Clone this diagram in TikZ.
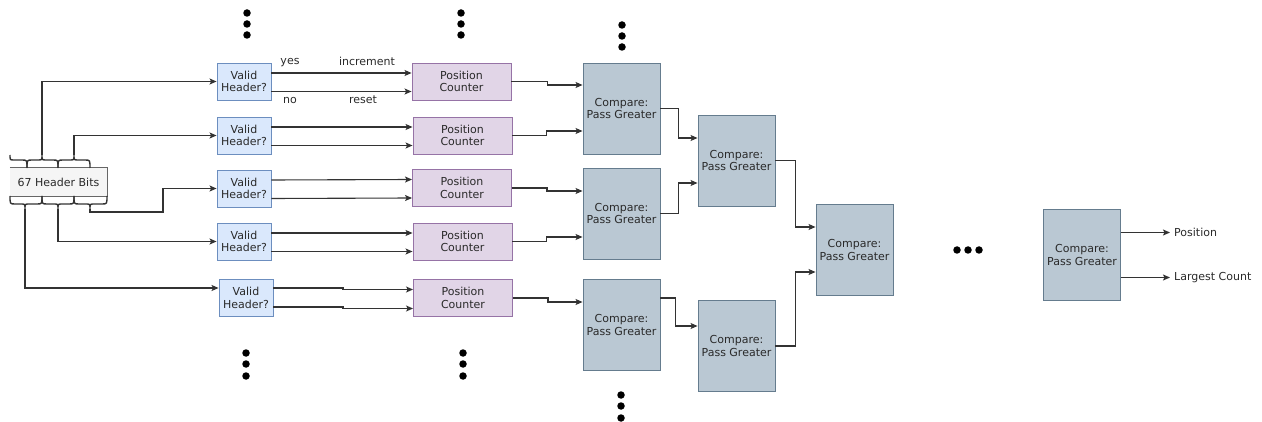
\documentclass[tikz,border=0pt]{standalone}
\usepackage{fontspec}
\setmainfont{DejaVu Sans}
\usetikzlibrary{arrows.meta}
\definecolor{vfill}{HTML}{DAE8FC}
\definecolor{vline}{HTML}{6C8EBF}
\definecolor{pfill}{HTML}{E1D5E7}
\definecolor{pline}{HTML}{9673A6}
\definecolor{cfill}{HTML}{BAC8D3}
\definecolor{cline}{HTML}{23445D}
\definecolor{hfill}{HTML}{F5F5F5}
\definecolor{hline}{HTML}{666666}
\definecolor{txt}{HTML}{2A2A2A}
\definecolor{wire}{HTML}{333333}
\newcommand{\mybracetop}[3]{%
  \draw[bracestyle] (#1,168) .. controls (#1,160) .. (#1+5,160) -- (#2-4,160) .. controls (#2,160) .. (#2,155) .. controls (#2,160) .. (#2+4,160) -- (#3-5,160) .. controls (#3,160) .. (#3,168);}
\newcommand{\mybracebot}[3]{%
  \draw[bracestyle] (#1,196) .. controls (#1,204) .. (#1+5,204) -- (#2-4,204) .. controls (#2,204) .. (#2,209) .. controls (#2,204) .. (#2+4,204) -- (#3-5,204) .. controls (#3,204) .. (#3,196);}
\tikzset{
  base/.style={inner sep=0pt, align=center, text=txt, font=\fontsize{11}{12.5}\selectfont},
  valid/.style={base, draw=vline, fill=vfill, line width=0.9pt, minimum width=54pt, minimum height=37pt},
  poscnt/.style={base, draw=pline, fill=pfill, line width=0.9pt, minimum width=99pt, minimum height=37pt},
  cmp/.style={base, draw=cline!70, fill=cfill, line width=0.9pt, minimum width=77pt, minimum height=91pt},
  lbl/.style={base},
  conn/.style={draw=wire, line width=1.1pt, -{Stealth[length=7pt,width=6pt,inset=1.5pt]}},
  bracestyle/.style={draw=wire, line width=1.4pt},
  dot/.style={circle, fill=black, inner sep=0pt, minimum size=7.5pt},
}
\begin{document}
\begin{tikzpicture}[x=1pt,y=-1pt]
\useasboundingbox (0,0) rectangle (1262,422);
% header bits box
\node[base, fill=hfill, minimum width=97pt, minimum height=28pt] (hb) at (58.5,182) {67 Header Bits};
\draw[hline, line width=0.9pt] (hb.north west) -- (hb.north east) -- (hb.south east) -- (hb.south west);
% braces
\draw[bracestyle] (10,155) .. controls (10,160) .. (14,160) -- (22,160) .. controls (27,160) .. (27,168);
\mybracetop{27}{42}{58}
\mybracetop{58}{74}{90}
\mybracebot{10}{25}{42}
\mybracebot{42}{58}{74}
\mybracebot{74}{90}{107}
\coordinate (tt1) at (42,155);
\coordinate (tt2) at (74,155);
\coordinate (bt1) at (25,209);
\coordinate (bt2) at (58,209);
\coordinate (bt3) at (90,209);
\coordinate (bj3) at (163,212);
% valid header boxes
\node[valid] (vh1) at (244,81.5) {Valid\\Header?};
\node[valid] (vh2) at (244,135.5) {Valid\\Header?};
\node[valid] (vh3) at (244,188.5) {Valid\\Header?};
\node[valid] (vh4) at (244,241.5) {Valid\\Header?};
\node[valid] (vh5) at (246,298) {Valid\\Header?};
% position counters
\node[poscnt] (pc1) at (461.5,81.5) {Position\\Counter};
\node[poscnt] (pc2) at (462.5,135.5) {Position\\Counter};
\node[poscnt] (pc3) at (462,188) {Position\\Counter};
\node[poscnt] (pc4) at (462.5,241.5) {Position\\Counter};
\node[poscnt] (pc5) at (463,298) {Position\\Counter};
% compare boxes
\node[cmp] (c1a) at (621.5,108.5) {Compare:\\Pass Greater};
\node[cmp] (c1b) at (621.5,213.5) {Compare:\\Pass Greater};
\node[cmp] (c1c) at (621.5,325) {Compare:\\Pass Greater};
\node[cmp] (c2a) at (736.5,160.5) {Compare:\\Pass Greater};
\node[cmp] (c2b) at (736.5,346) {Compare:\\Pass Greater};
\node[cmp] (c3) at (854.5,250) {Compare:\\Pass Greater};
\node[cmp] (cf) at (1082,255) {Compare:\\Pass Greater};
% header -> valid
\draw[conn] (tt1) |- (vh1.west);
\draw[conn] (tt2) |- (vh2.west);
\draw[conn] (bt3) |- (bj3) |- (vh3.west);
\draw[conn] (bt2) |- (vh4.west);
\draw[conn] (bt1) |- ([yshift=10pt]vh5.west);
% valid -> position
\foreach \r in {1,2,3,4}{
  \draw[conn] ([yshift=8.5pt]vh\r.east) -- ([yshift=8.5pt]pc\r.west);
  \draw[conn] ([yshift=-10pt]vh\r.east) -- ([yshift=-10pt]pc\r.west);
}
\draw[conn] ([yshift=10pt]vh5.east) -- (343,288) -- (343,289.5) -- ([yshift=8.5pt]pc5.west);
\draw[conn] ([yshift=-9pt]vh5.east) -- (343,307) -- (343,308.5) -- ([yshift=-10.5pt]pc5.west);
% labels
\node[lbl] (lyes) at (290,63) {yes};
\node[lbl] (linc) at (367,61) {increment};
\node[lbl] (lno) at (290,100) {no};
\node[lbl] (lres) at (363,100) {reset};
% position -> compare
\draw[conn] (pc1.east) -- ++(36,0) |- ([yshift=23.5pt]c1a.west);
\draw[conn] (pc2.east) -- ++(34,0) |- ([yshift=-22.5pt]c1a.west);
\draw[conn] (pc3.east) -- ++(35,0) |- ([yshift=22.5pt]c1b.west);
\draw[conn] (pc4.east) -- ++(34,0) |- ([yshift=-23.5pt]c1b.west);
\draw[conn] (pc5.east) -- ++(35,0) |- ([yshift=23pt]c1c.west);
% compare tree
\draw[conn] (c1a.east) -- ++(18,0) |- ([yshift=22.5pt]c2a.west);
\draw[conn] (c1b.east) -- ++(18,0) |- ([yshift=-22.5pt]c2a.west);
\draw[conn] ([yshift=27pt]c1c.east) -- ++(15,0) |- ([yshift=20pt]c2b.west);
\draw[conn] (c2a.east) -- ++(20,0) |- ([yshift=23pt]c3.west);
\draw[conn] (c2b.east) -- ++(20,0) |- ([yshift=-22pt]c3.west);
% outputs
\coordinate (opos) at (1170,232.5);
\coordinate (olc) at (1170,277.5);
\draw[conn] ([yshift=22.5pt]cf.east) -- (opos);
\draw[conn] ([yshift=-22.5pt]cf.east) -- (olc);
\node[lbl, anchor=west] (tpos) at (1174,232.5) {Position};
\node[lbl, anchor=west] (tlc) at (1174,277.5) {Largest Count};
% ellipsis dots
\foreach \x/\y in {247/13,247/24,247/35, 461/13,461/24,461/35, 622/25,622/36,622/47,
                   246/353,246/364,246/376, 463/353,463/364,463/376, 621/395,621/406,621/418,
                   957/250,968/250,979/250}{
  \node[dot] at (\x,\y) {};
}
\end{tikzpicture}
\end{document}
